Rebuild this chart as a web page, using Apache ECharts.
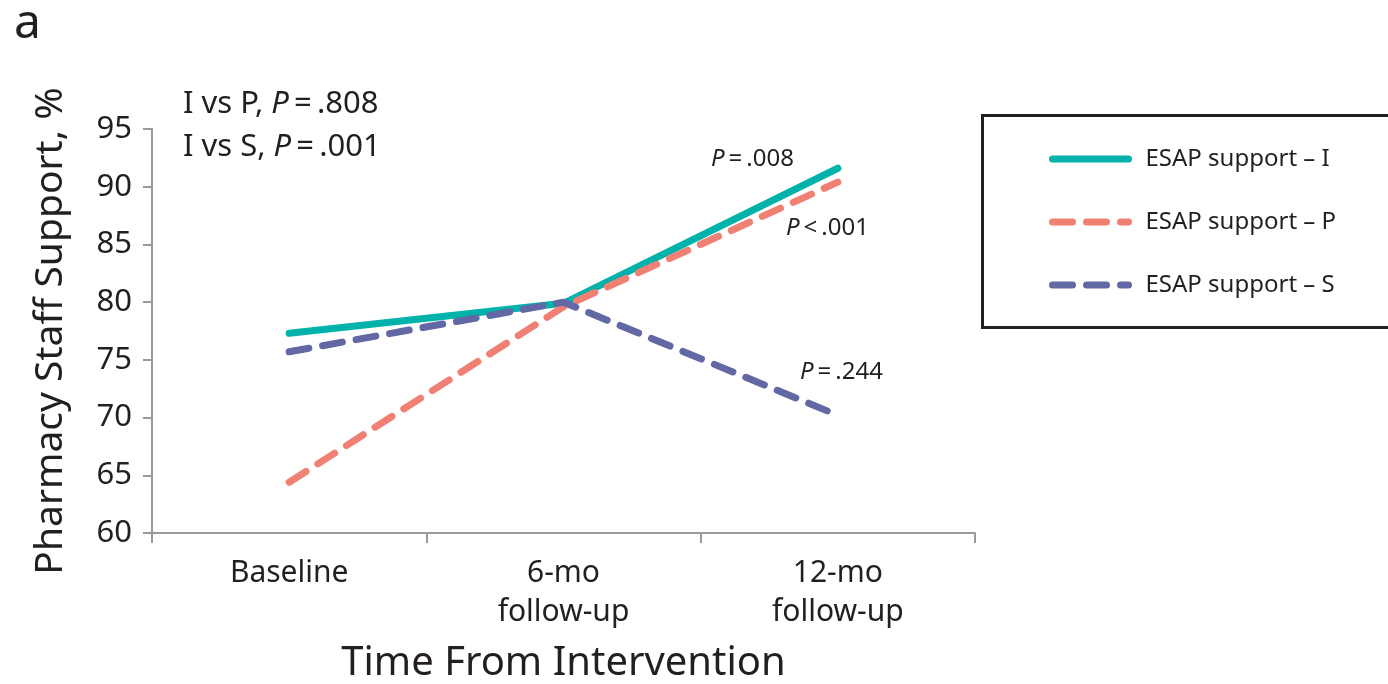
<!DOCTYPE html>
<html>
<head>
<meta charset="utf-8">
<script src="https://cdn.jsdelivr.net/npm/echarts@6/dist/echarts.min.js"></script>
<style>
  html, body { margin: 0; padding: 0; background: #fff; }
  #main { width: 1388px; height: 684px; }
</style>
</head>
<body>
<div id="main"></div>
<script>
// data
var categories = ['Baseline', '6-mo\nfollow-up', '12-mo\nfollow-up'];
var supportI = [77.3, 79.9, 91.6];
var supportP = [64.4, 79.6, 90.4];
var supportS = [75.7, 80.0, 70.2];
var seriesNames = ['ESAP support – I', 'ESAP support – P', 'ESAP support – S'];

var font = 'Noto Sans';
var txt = '#231f20';
var th = '\u2009';

function pText(left, top, str, size) {
  return {
    type: 'text', left: left, top: top,
    style: {
      text: str, fontSize: size, fill: txt, fontFamily: font, lineHeight: size * 1.4,
      rich: { i: { fontStyle: 'italic', fontSize: size, fontFamily: font, fill: txt } }
    }
  };
}

var myChart = echarts.init(document.getElementById('main'));

var option = {
  animation: false,
  textStyle: { fontFamily: font, color: txt },
  grid: { left: 152, right: 413, top: 129, bottom: 151, outerBoundsMode: 'none', containLabel: false },
  xAxis: {
    type: 'category',
    data: categories,
    boundaryGap: true,
    name: 'Time From Intervention',
    nameLocation: 'middle',
    nameGap: 111,
    nameTextStyle: { fontSize: 40, color: txt, fontFamily: font },
    axisLine: { lineStyle: { color: '#9a9a9a', width: 2 } },
    axisTick: { show: true, length: 10, lineStyle: { color: '#9a9a9a', width: 2 } },
    axisLabel: { fontSize: 30, color: txt, margin: 21, lineHeight: 39, verticalAlign: 'top' }
  },
  yAxis: {
    type: 'value',
    min: 60,
    max: 95,
    interval: 5,
    name: 'Pharmacy Staff Support, %',
    nameLocation: 'middle',
    nameGap: 82,
    nameTextStyle: { fontSize: 39, color: txt, fontFamily: font },
    axisLine: { show: true, lineStyle: { color: '#9a9a9a', width: 2 } },
    axisTick: { show: true, length: 9, lineStyle: { color: '#9a9a9a', width: 2 } },
    axisLabel: { fontSize: 31, color: txt, margin: 20 },
    splitLine: { show: false }
  },
  legend: {
    orient: 'vertical',
    left: 1044,
    top: 139,
    itemWidth: 76,
    itemHeight: 14,
    itemGap: 33,
    itemStyle: { opacity: 0 },
    lineStyle: { width: 7, cap: 'round' },
    textStyle: { fontSize: 24, lineHeight: 30, color: txt, fontFamily: font, padding: [0, 0, 0, 12] },
    data: seriesNames
  },
  graphic: [
    { type: 'rect', left: 980, top: 113, shape: { width: 420, height: 212 },
      style: { fill: 'none', stroke: '#231f20', lineWidth: 3 } },
    { type: 'text', left: 14, top: 0, style: { text: 'a', fontSize: 48, fill: txt, fontFamily: font } },
    pText(183, 82, 'I vs P, {i|P}' + th + '=' + th + '.808\nI vs S, {i|P}' + th + '=' + th + '.001', 31),
    pText(711, 142, '{i|P}' + th + '=' + th + '.008', 24),
    pText(786, 211, '{i|P}' + th + '<' + th + '.001', 24),
    pText(800, 355, '{i|P}' + th + '=' + th + '.244', 24)
  ],
  series: [
    {
      name: seriesNames[0], type: 'line', data: supportI, symbol: 'none', z: 3,
      itemStyle: { color: '#00b2a9' },
      lineStyle: { color: '#00b2a9', width: 7, cap: 'round' }
    },
    {
      name: seriesNames[1], type: 'line', data: supportP, symbol: 'none', z: 4,
      itemStyle: { color: '#f07f74' },
      lineStyle: { color: '#f07f74', width: 7, type: [20, 14], cap: 'round' }
    },
    {
      name: seriesNames[2], type: 'line', data: supportS, symbol: 'none', z: 5,
      itemStyle: { color: '#6268a3' },
      lineStyle: { color: '#6268a3', width: 7, type: [20, 14], cap: 'round' }
    }
  ]
};

myChart.setOption(option);
</script>
</body>
</html>
